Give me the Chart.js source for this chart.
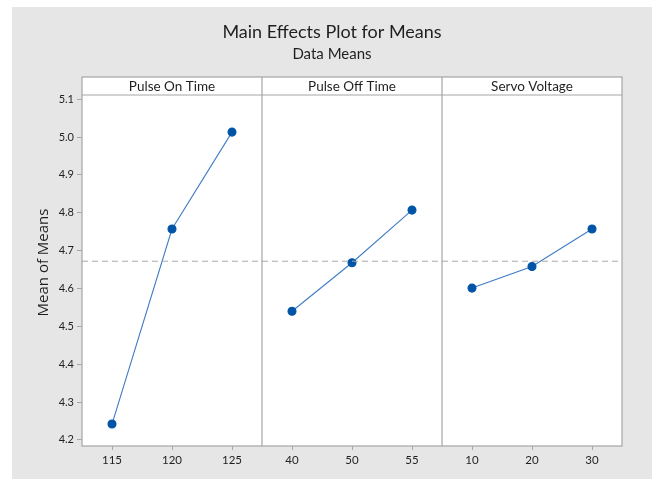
<!DOCTYPE html>
<html>
<head>
<meta charset="utf-8">
<script src="https://cdn.jsdelivr.net/npm/chart.js@4"></script>
<style>
  html, body { margin: 0; padding: 0; background: #ffffff; }
  #grafica { display: block; }
</style>
</head>
<body>
<canvas id="grafica" width="656" height="484"></canvas>
<script>
// niveles de cada factor (eje x)
const nivelesPulseOn = ['115', '120', '125'];
const nivelesPulseOff = ['40', '50', '55'];
const nivelesServo = ['10', '20', '30'];

// medias
const mediasPulseOn = [4.242, 4.757, 5.013];
const mediasPulseOff = [4.540, 4.668, 4.807];
const mediasServo = [4.601, 4.658, 4.757];

const factores = ['Pulse On Time', 'Pulse Off Time', 'Servo Voltage'];
const marcasY = [4.2, 4.3, 4.4, 4.5, 4.6, 4.7, 4.8, 4.9, 5.0, 5.1];
const mediaGeneral = 4.672;

const fuente = 'Lato, "Open Sans", sans-serif';
const colorBorde = '#a6a6a6';
const colorTexto = '#1f1f1f';

const etiquetas = [...nivelesPulseOn, ...nivelesPulseOff, ...nivelesServo];

function serie(valores, bloque) {
    let datos = new Array(etiquetas.length).fill(null);
    valores.forEach((v, i) => { datos[bloque * 3 + i] = v; });
    return datos;
}

function crearDataset(valores, bloque) {
    return {
        data: serie(valores, bloque),
        borderColor: '#3f7cc6',
        borderWidth: 1.1,
        pointBackgroundColor: '#0054a6',
        pointBorderColor: '#0054a6',
        pointRadius: 4,
        pointHoverRadius: 4,
        spanGaps: false,
        tension: 0
    };
}

const fondo = {
    id: 'fondo',
    beforeDraw(chart) {
        const ctx = chart.ctx;
        const area = chart.chartArea;
        ctx.save();
        ctx.fillStyle = '#ffffff';
        ctx.fillRect(0, 0, chart.width, chart.height);
        ctx.fillStyle = '#e6e6e6';
        ctx.fillRect(12, 7, 640, 472);
        // area de trazado y tiras de encabezado
        ctx.fillStyle = '#ffffff';
        ctx.fillRect(area.left, area.top - 18, area.right - area.left, area.bottom - area.top + 18);

        ctx.fillStyle = colorTexto;
        ctx.textAlign = 'center';
        ctx.textBaseline = 'middle';
        ctx.font = '18px ' + fuente;
        ctx.fillText('Main Effects Plot for Means', 332, 32);
        ctx.font = '15px ' + fuente;
        ctx.fillText('Data Means', 332, 54);

        // titulo del eje y
        ctx.translate(44, (area.top + area.bottom) / 2 - 8);
        ctx.rotate(-Math.PI / 2);
        ctx.font = '15px "Open Sans", sans-serif';
        ctx.fillText('Mean of Means', 0, 0);
        ctx.restore();
    },
    afterDatasetsDraw(chart) {
        const ctx = chart.ctx;
        const area = chart.chartArea;
        const x = chart.scales.x;
        const y = chart.scales.y;
        ctx.save();

        // linea de la media general
        const yMedia = y.getPixelForValue(mediaGeneral);
        ctx.strokeStyle = '#a8a8a8';
        ctx.lineWidth = 1;
        ctx.setLineDash([6, 4]);
        ctx.beginPath();
        ctx.moveTo(area.left, yMedia);
        ctx.lineTo(area.right, yMedia);
        ctx.stroke();
        ctx.setLineDash([]);

        // marco, divisiones y encabezados
        ctx.strokeStyle = colorBorde;
        ctx.lineWidth = 1.2;
        const arriba = area.top - 18;
        ctx.strokeRect(area.left, arriba, area.right - area.left, area.bottom - arriba);
        ctx.beginPath();
        ctx.moveTo(area.left, area.top);
        ctx.lineTo(area.right, area.top);
        [3, 6].forEach(i => {
            const xd = (x.getPixelForValue(i - 1) + x.getPixelForValue(i)) / 2;
            ctx.moveTo(xd, arriba);
            ctx.lineTo(xd, area.bottom);
        });
        ctx.stroke();

        ctx.fillStyle = colorTexto;
        ctx.font = '13.5px ' + fuente;
        ctx.textAlign = 'center';
        ctx.textBaseline = 'middle';
        factores.forEach((nombre, i) => {
            const centro = x.getPixelForValue(i * 3 + 1);
            ctx.fillText(nombre, centro, arriba + 9.5);
        });
        ctx.restore();
    }
};

new Chart(document.getElementById('grafica'), {
    type: 'line',
    data: {
        labels: etiquetas,
        datasets: [
            crearDataset(mediasPulseOn, 0),
            crearDataset(mediasPulseOff, 1),
            crearDataset(mediasServo, 2)
        ]
    },
    options: {
        responsive: false,
        animation: false,
        layout: {
            padding: { left: 12, right: 34, top: 95, bottom: 4 }
        },
        plugins: {
            legend: { display: false },
            title: { display: false },
            tooltip: { enabled: false }
        },
        scales: {
            x: {
                type: 'category',
                offset: true,
                grid: {
                    drawOnChartArea: false,
                    drawTicks: true,
                    tickLength: 4,
                    color: colorBorde
                },
                border: { display: false },
                ticks: {
                    color: colorTexto,
                    font: { family: fuente, size: 11.5 },
                    padding: 3,
                    maxRotation: 0
                },
                afterFit(scale) { scale.height = 34; }
            },
            y: {
                min: 4.184,
                max: 5.111,
                grid: {
                    drawOnChartArea: false,
                    drawTicks: true,
                    tickLength: 5,
                    color: colorBorde
                },
                border: { display: false },
                ticks: {
                    stepSize: 0.1,
                    includeBounds: false,
                    color: colorTexto,
                    font: { family: fuente, size: 11 },
                    padding: 3,
                    callback: v => marcasY.some(m => Math.abs(m - v) < 1e-6) ? v.toFixed(1) : ''
                },
                afterFit(scale) { scale.width = 70; }
            }
        }
    },
    plugins: [fondo]
});
</script>
</body>
</html>
